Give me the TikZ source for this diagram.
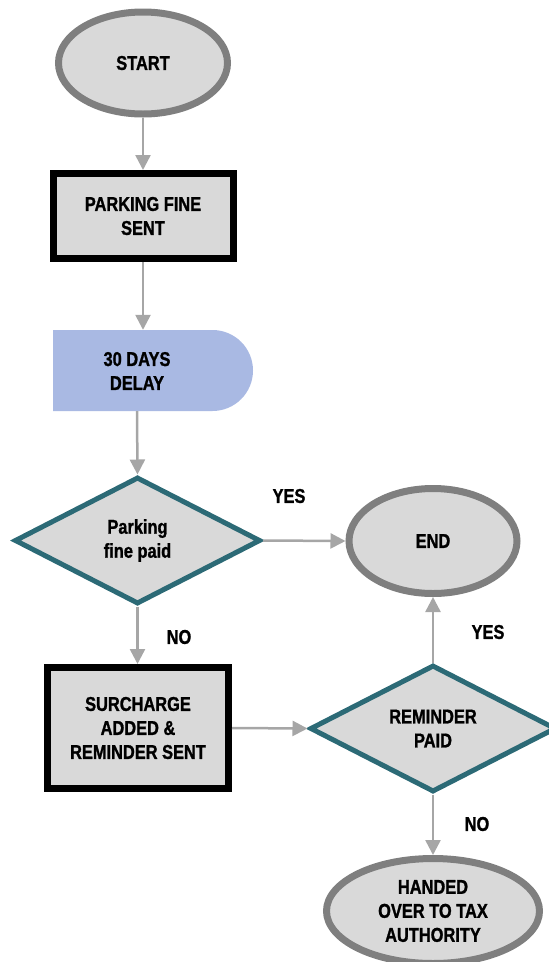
\documentclass[tikz,border=0pt]{standalone}
\usepackage{fontspec}
\setmainfont{Liberation Sans}[FakeStretch=0.82, BoldFeatures={FakeBold=1.2}]
\usetikzlibrary{shapes.geometric,shapes.misc,arrows.meta}

\definecolor{shapefill}{HTML}{D9D9D9}
\definecolor{termline}{HTML}{7F7F7F}
\definecolor{decline}{HTML}{2C6A76}
\definecolor{delayfill}{HTML}{A9B9E3}
\definecolor{arrowgray}{HTML}{A6A6A6}

\tikzset{
  lbl/.style={font=\bfseries\fontsize{20}{24}\selectfont, align=center, inner sep=0pt},
  terminal/.style={lbl, ellipse, draw=termline, line width=7pt, fill=shapefill},
  process/.style={lbl, rectangle, draw=black, line width=7pt, fill=shapefill},
  decision/.style={lbl, diamond, draw=decline, line width=5pt, fill=shapefill,
    minimum width=246pt, minimum height=127pt},
  delaybox/.style={rounded rectangle, rounded rectangle west arc=none,
    fill=delayfill, draw=none, minimum width=200pt, minimum height=81pt, inner sep=0pt},
  arr/.style={draw=arrowgray, line width=2.5pt,
    -{Triangle[width=15pt,length=15pt,fill=arrowgray]}},
}

\begin{document}
\begin{tikzpicture}[x=1pt,y=-1pt]
\useasboundingbox (0,0) rectangle (549,962);

% start / end terminals
\node[terminal, minimum width=169pt, minimum height=102pt] (start) at (143,63) {START};
\node[terminal, minimum width=168pt, minimum height=105pt] (end) at (433,541) {END};
\node[terminal, minimum width=213pt, minimum height=105pt] (hand) at (433,911)
  {HANDED\\OVER TO TAX\\AUTHORITY};

% process steps
\node[process, minimum width=180pt, minimum height=85pt] (fine) at (143,216)
  {PARKING FINE\\SENT};
\node[process, minimum width=181pt, minimum height=121pt] (sur) at (138,728)
  {SURCHARGE\\ADDED \&\\REMINDER SENT};

% delay step
\node[delaybox] (delay) at (153,370.5) {};
\node[lbl] (delaytxt) at (137,371) {30 DAYS\\DELAY};

% decisions
\node[decision] (paid) at (137.5,540.5) {Parking\\fine paid};
\node[decision] (rem) at (433,728.5) {REMINDER\\PAID};

% connectors
\draw[arr] (start.south) -- (start.south |- fine.north);
\draw[arr] (fine.south) -- (fine.south |- delay.north);
\draw[arr] (delaytxt |- delay.south) -- (paid.north);
\draw[arr] (paid.east) -- (end.west);
\draw[arr] (paid.south) -- (paid.south |- sur.north);
\draw[arr] (sur.east) -- (rem.west);
\draw[arr] (rem.north) -- (end.south);
\draw[arr] (rem.south) -- (hand.north);

% branch labels
\node[lbl] (yes1) at (289,496) {YES};
\node[lbl] (no1) at (179,637) {NO};
\node[lbl] (yes2) at (488,632) {YES};
\node[lbl] (no2) at (477,824) {NO};
\end{tikzpicture}
\end{document}
